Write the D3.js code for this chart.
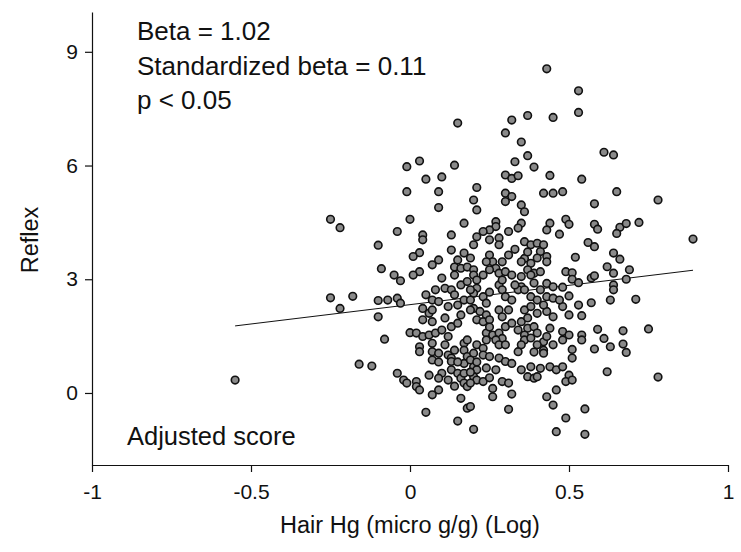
<!DOCTYPE html>
<html>
<head>
<meta charset="utf-8">
<script src="https://cdn.jsdelivr.net/npm/d3@7"></script>
<style>
  body { margin: 0; background: #fff; }
  text { font-family: "Liberation Sans", Arial, sans-serif; fill: #111; }
</style>
</head>
<body>
<div class="chart"></div>
<script>
// log hair mercury (x) and adjusted reflex score (y)
const hgLog = [
  0.15, -0.01, 0.03, 0.14, 0.05, 0.10, 0.43, 0.37, 0.45, 0.32,
  0.30, 0.35, 0.37, 0.33, 0.39, 0.30, 0.32, 0.34, 0.44, 0.21,
  0.53, 0.53, 0.61, 0.64, 0.54, -0.25, -0.22, -0.10, -0.09, -0.25,
  -0.18, -0.10, -0.22, -0.10, -0.01, 0.09, 0.09, 0.00, -0.04, 0.04,
  0.04, 0.13, 0.03, 0.01, 0.13, 0.17, 0.17, 0.09, 0.07, -0.05,
  -0.03, 0.03, 0.01, 0.14, 0.16, 0.18, 0.10, 0.11, 0.13, 0.05,
  0.07, 0.09, -0.04, -0.03, -0.07, 0.04, 0.06, 0.12, 0.15, 0.17,
  0.16, 0.18, 0.20, 0.30, 0.32, 0.30, 0.35, 0.36, 0.42, 0.45,
  0.21, 0.27, 0.27, 0.25, 0.23, 0.21, 0.35, 0.34, 0.44, 0.43,
  0.31, 0.20, 0.33, 0.36, 0.38, 0.40, 0.41, 0.43, 0.43, 0.25,
  0.26, 0.27, 0.25, 0.28, 0.36, 0.38, 0.37, 0.39, 0.41, 0.30,
  0.32, 0.35, 0.20, 0.20, 0.21, 0.43, 0.45, 0.21, 0.20, 0.23,
  0.24, 0.28, 0.29, 0.30, 0.32, 0.35, 0.34, 0.38, 0.40, 0.43,
  0.45, 0.20, 0.22, 0.24, 0.28, 0.29, 0.36, 0.38, 0.40, 0.43,
  0.45, 0.48, 0.65, 0.78, 0.58, 0.49, 0.50, 0.58, 0.59, 0.66,
  0.65, 0.68, 0.72, 0.89, 0.47, 0.56, 0.58, 0.52, 0.64, 0.66,
  0.62, 0.64, 0.69, 0.68, 0.49, 0.51, 0.51, 0.53, 0.57, 0.58,
  0.64, 0.64, 0.63, 0.71, 0.48, 0.50, 0.57, 0.53, 0.48, 0.50,
  0.54, -0.55, -0.16, -0.12, -0.08, 0.00, 0.02, 0.04, 0.06, 0.08,
  0.10, 0.13, 0.12, 0.15, 0.04, 0.07, 0.03, 0.03, 0.07, 0.07,
  0.09, 0.12, 0.13, 0.13, 0.07, 0.17, 0.17, 0.18, 0.17, -0.04,
  -0.02, -0.01, 0.02, 0.02, 0.03, 0.10, 0.09, 0.13, 0.15, 0.16,
  0.17, 0.18, 0.17, 0.09, 0.07, 0.16, 0.18, 0.05, 0.15, 0.21,
  0.23, 0.24, 0.26, 0.28, 0.29, 0.27, 0.30, 0.32, 0.35, 0.37,
  0.39, 0.36, 0.36, 0.40, 0.42, 0.42, 0.44, 0.43, 0.42, 0.21,
  0.23, 0.20, 0.34, 0.23, 0.25, 0.28, 0.30, 0.32, 0.35, 0.37,
  0.39, 0.40, 0.38, 0.41, 0.44, 0.46, 0.20, 0.21, 0.20, 0.21,
  0.19, 0.23, 0.29, 0.31, 0.26, 0.26, 0.32, 0.43, 0.45, 0.46,
  0.19, 0.31, 0.20, 0.46, 0.48, 0.50, 0.48, 0.54, 0.54, 0.59,
  0.61, 0.67, 0.75, 0.58, 0.63, 0.67, 0.68, 0.51, 0.51, 0.48,
  0.50, 0.49, 0.51, 0.62, 0.78, 0.55, 0.49, 0.55,
  0.28, 0.37, 0.40, 0.35, 0.42, 0.24, 0.29, 0.31, 0.29, 0.23,
  0.25, 0.19, 0.25, 0.36, 0.41, 0.31, 0.47, 0.37, 0.42, 0.33,
  0.25, 0.28, 0.24, 0.38, 0.40, 0.45, 0.35, 0.39, 0.19, 0.24,
  0.25, 0.27, 0.11, 0.14, 0.09, 0.15, 0.12, 0.14, 0.06, 0.15,
  0.19, 0.14, 0.08, 0.14, 0.19, 0.07, 0.11, 0.16, 0.19,
  0.18, 0.19, 0.34, 0.30, 0.25, 0.28, 0.39, 0.38, 0.21
];
const reflex = [
  7.12, 5.97, 6.12, 6.01, 5.64, 5.70, 8.55, 7.32, 7.27, 7.20,
  6.86, 6.62, 6.26, 6.10, 5.96, 5.75, 5.66, 5.73, 5.74, 5.42,
  7.97, 7.40, 6.35, 6.28, 5.64, 4.58, 4.36, 3.90, 3.28, 2.51,
  2.55, 2.44, 2.23, 2.01, 5.31, 5.31, 4.89, 4.58, 4.26, 4.17,
  4.04, 4.17, 3.70, 3.60, 3.77, 4.48, 3.69, 3.51, 3.38, 3.11,
  2.96, 3.20, 3.11, 3.32, 3.29, 3.32, 3.03, 2.76, 2.72, 2.59,
  2.45, 2.41, 2.50, 2.37, 2.45, 2.23, 2.10, 2.28, 2.32, 2.45,
  2.85, 2.94, 5.09, 5.27, 5.18, 5.05, 4.96, 4.78, 5.27, 5.27,
  4.83, 4.52, 4.39, 4.30, 4.26, 4.12, 4.48, 4.35, 4.48, 4.30,
  4.26, 3.91, 3.79, 3.99, 3.91, 3.95, 3.73, 3.60, 3.46, 3.64,
  3.46, 3.29, 3.25, 3.16, 3.55, 3.42, 3.25, 3.16, 3.20, 3.20,
  3.11, 3.07, 3.25, 3.11, 2.98, 2.89, 2.80, 2.76, 2.63, 2.54,
  2.37, 2.85, 2.72, 2.54, 2.45, 2.80, 2.72, 2.54, 2.45, 2.54,
  2.50, 2.23, 2.15, 2.06, 2.19, 2.01, 2.19, 2.28, 2.10, 2.15,
  2.01, 5.31, 5.31, 5.09, 4.99, 4.58, 4.45, 4.45, 4.32, 4.37,
  4.21, 4.47, 4.50, 4.06, 4.19, 3.97, 3.86, 3.58, 3.69, 3.53,
  3.33, 3.16, 3.25, 3.00, 3.20, 3.17, 3.00, 2.91, 3.03, 3.09,
  2.85, 2.72, 2.45, 2.47, 2.79, 2.56, 2.38, 2.32, 2.28, 2.06,
  2.04, 0.34, 0.76, 0.71, 1.42, 1.59, 1.58, 1.49, 1.53, 1.58,
  1.66, 1.75, 1.49, 1.84, 1.93, 1.88, 1.22, 1.09, 1.31, 1.09,
  1.05, 1.00, 0.92, 0.83, 0.87, 1.31, 1.13, 0.96, 0.78, 0.52,
  0.34, 0.26, 0.30, 0.17, 0.08, 0.52, 0.39, 0.61, 0.52, 0.39,
  0.26, 0.17, 0.52, 0.08, -0.05, -0.14, -0.40, -0.51, -0.74, 1.93,
  1.88, 1.58, 1.53, 1.58, 1.44, 1.40, 1.75, 1.84, 1.88, 1.71,
  1.75, 1.53, 1.40, 1.58, 1.35, 1.13, 1.71, 1.49, 1.05, 1.27,
  1.18, 1.05, 1.09, 1.00, 0.96, 0.92, 0.83, 0.78, 0.61, 0.43,
  0.39, 0.43, 0.69, 0.65, 0.69, 0.61, 0.69, 0.61, 0.43, 0.34,
  0.26, 0.30, 0.30, 0.26, 0.12, -0.10, -0.03, -0.10, -0.32, 0.08,
  -0.36, -0.43, -0.96, -1.02, 1.62, 1.53, 1.40, 1.53, 1.40, 1.68,
  1.44, 1.64, 1.69, 1.16, 1.22, 1.29, 1.07, 1.15, 0.92, 0.69,
  0.47, 0.30, 0.34, 0.56, 0.42, -0.42, -0.66, -1.09,
  4.09, 3.72, 3.56, 3.46, 3.91, 3.46, 3.46, 3.64, 2.98, 3.11,
  2.66, 2.45, 1.93, 2.72, 2.72, 2.19, 2.45, 1.98, 2.32, 2.85,
  1.74, 1.27, 1.40, 1.45, 1.27, 1.27, 1.27, 1.08, 0.87, 0.66,
  0.40, 0.61, 1.27, 1.13, 0.82, 0.82, 0.34, 0.18, 0.47, 3.51,
  3.56, 3.11, 2.72, 2.59, 2.72, 2.19, 1.98, 2.06, 2.19,
  1.40, 0.55, 1.66, 1.27, 4.04, 3.91, 2.90, 3.11, 0.82
];

const xTicks = [-1, -0.5, 0, 0.5, 1];
const yTicks = [0, 3, 6, 9];

// fitted line: reflex = intercept + slope * hgLog, drawn over the data range
const fit = { intercept: 2.33, slope: 1.02 };
const fitRange = [-0.55, 0.89];

const notes = ['Beta = 1.02', 'Standardized beta = 0.11', 'p < 0.05'];

const width = 741, height = 552;

const x = d3.scaleLinear().domain([-1, 1]).range([92, 728]);
const y = d3.scaleLinear().domain([-1.9, 10.05]).range([465, 12]);

const svg = d3.select('.chart')
  .append('svg')
    .attr('width', width)
    .attr('height', height);

svg.append('g')
    .attr('transform', `translate(0,${y.range()[0]})`)
    .call(d3.axisBottom(x).tickValues(xTicks).tickSize(7).tickSizeOuter(0)
      .tickFormat(d => d))
    .call(g => g.selectAll('text').attr('dy', 0).attr('y', 34).style('font-size', '21px'))
    .call(g => g.selectAll('path, line').attr('stroke', '#111').attr('stroke-width', 1.2));

svg.append('g')
    .attr('transform', `translate(${x.range()[0]},0)`)
    .call(d3.axisLeft(y).tickValues(yTicks).tickSize(7).tickSizeOuter(0))
    .call(g => g.selectAll('text').attr('x', -14).style('font-size', '21px'))
    .call(g => g.selectAll('path, line').attr('stroke', '#111').attr('stroke-width', 1.2));

svg.selectAll('.fit')
  .data([fitRange])
  .enter()
    .append('line')
    .attr('x1', d => x(d[0]))
    .attr('y1', d => y(fit.intercept + fit.slope * d[0]))
    .attr('x2', d => x(d[1]))
    .attr('y2', d => y(fit.intercept + fit.slope * d[1]))
    .attr('stroke', '#111')
    .attr('stroke-width', 1);

svg.append('g')
  .selectAll('circle')
  .data(hgLog.map((v, i) => [v, reflex[i]]))
  .enter()
    .append('circle')
    .attr('cx', d => x(d[0]))
    .attr('cy', d => y(d[1]))
    .attr('r', 3.8)
    .attr('fill', '#8a8a8a')
    .attr('stroke', '#111')
    .attr('stroke-width', 1.6);

svg.selectAll('.note')
  .data(notes)
  .enter()
    .append('text')
    .attr('x', 137)
    .attr('y', (d, i) => 40 + i * 34.5)
    .style('font-size', '26px')
    .text(d => d);

svg.append('text')
    .attr('x', 127)
    .attr('y', 445)
    .style('font-size', '25.5px')
    .text('Adjusted score');

svg.append('text')
    .attr('x', 410)
    .attr('y', 533)
    .attr('text-anchor', 'middle')
    .style('font-size', '23.5px')
    .text('Hair Hg (micro g/g) (Log)');

svg.append('text')
    .attr('transform', 'translate(38,240) rotate(-90)')
    .attr('text-anchor', 'middle')
    .style('font-size', '23.5px')
    .text('Reflex');
</script>
</body>
</html>
